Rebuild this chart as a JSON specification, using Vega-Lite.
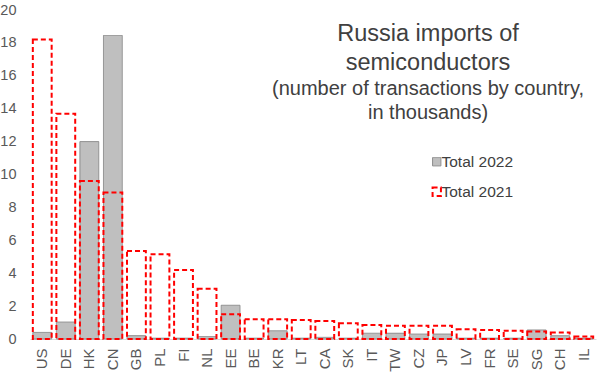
{
  "$schema": "https://vega.github.io/schema/vega-lite/v6.json",
  "autosize": "none",
  "width": 566,
  "height": 329,
  "padding": {"left": 30, "top": 10, "right": 4, "bottom": 37},
  "background": "white",
  "config": {
    "view": {"stroke": null},
    "font": "Liberation Sans"
  },
  "title": {
    "text": ["Russia imports of", "semiconductors"],
    "subtitle": ["(number of transactions by country,", "in thousands)"],
    "anchor": "middle",
    "frame": "group",
    "dx": 115,
    "offset": -121,
    "font": "Liberation Sans",
    "fontSize": 23.5,
    "fontWeight": "normal",
    "lineHeight": 29,
    "color": "#404040",
    "subtitleFont": "Liberation Sans",
    "subtitleFontSize": 20,
    "subtitleLineHeight": 24,
    "subtitleColor": "#404040",
    "subtitlePadding": 5
  },
  "data": {
    "values": [
      {"country": "US", "series": "Total 2022", "value": 0.4},
      {"country": "DE", "series": "Total 2022", "value": 1.03},
      {"country": "HK", "series": "Total 2022", "value": 12.0},
      {"country": "CN", "series": "Total 2022", "value": 18.45},
      {"country": "GB", "series": "Total 2022", "value": 0.2},
      {"country": "PL", "series": "Total 2022", "value": 0.05},
      {"country": "FI", "series": "Total 2022", "value": 0.05},
      {"country": "NL", "series": "Total 2022", "value": 0.15},
      {"country": "EE", "series": "Total 2022", "value": 2.05},
      {"country": "BE", "series": "Total 2022", "value": 0.05},
      {"country": "KR", "series": "Total 2022", "value": 0.5},
      {"country": "LT", "series": "Total 2022", "value": 0.05},
      {"country": "CA", "series": "Total 2022", "value": 0.1},
      {"country": "SK", "series": "Total 2022", "value": 0.05},
      {"country": "IT", "series": "Total 2022", "value": 0.35},
      {"country": "TW", "series": "Total 2022", "value": 0.35},
      {"country": "CZ", "series": "Total 2022", "value": 0.3},
      {"country": "JP", "series": "Total 2022", "value": 0.3},
      {"country": "LV", "series": "Total 2022", "value": 0.05},
      {"country": "FR", "series": "Total 2022", "value": 0.05},
      {"country": "SE", "series": "Total 2022", "value": 0.05},
      {"country": "SG", "series": "Total 2022", "value": 0.55},
      {"country": "CH", "series": "Total 2022", "value": 0.2},
      {"country": "IL", "series": "Total 2022", "value": 0.05},
      {"country": "US", "series": "Total 2021", "value": 18.2},
      {"country": "DE", "series": "Total 2021", "value": 13.7},
      {"country": "HK", "series": "Total 2021", "value": 9.6},
      {"country": "CN", "series": "Total 2021", "value": 8.9},
      {"country": "GB", "series": "Total 2021", "value": 5.35},
      {"country": "PL", "series": "Total 2021", "value": 5.15},
      {"country": "FI", "series": "Total 2021", "value": 4.2},
      {"country": "NL", "series": "Total 2021", "value": 3.05},
      {"country": "EE", "series": "Total 2021", "value": 1.5},
      {"country": "BE", "series": "Total 2021", "value": 1.2},
      {"country": "KR", "series": "Total 2021", "value": 1.2},
      {"country": "LT", "series": "Total 2021", "value": 1.15},
      {"country": "CA", "series": "Total 2021", "value": 1.1},
      {"country": "SK", "series": "Total 2021", "value": 0.95},
      {"country": "IT", "series": "Total 2021", "value": 0.85},
      {"country": "TW", "series": "Total 2021", "value": 0.8},
      {"country": "CZ", "series": "Total 2021", "value": 0.8},
      {"country": "JP", "series": "Total 2021", "value": 0.8},
      {"country": "LV", "series": "Total 2021", "value": 0.6},
      {"country": "FR", "series": "Total 2021", "value": 0.55},
      {"country": "SE", "series": "Total 2021", "value": 0.5},
      {"country": "SG", "series": "Total 2021", "value": 0.45},
      {"country": "CH", "series": "Total 2021", "value": 0.4},
      {"country": "IL", "series": "Total 2021", "value": 0.15}
    ]
  },
  "mark": {"type": "bar"},
  "encoding": {
    "x": {
      "field": "country",
      "type": "nominal",
      "sort": null,
      "scale": {"paddingInner": 0.2, "paddingOuter": 0.12},
      "axis": {
        "title": null,
        "labelAngle": -90,
        "labelFontSize": 15,
        "labelColor": "#595959",
        "labelPadding": 9,
        "ticks": false,
        "domainColor": "#d9d9d9",
        "domainWidth": 1
      }
    },
    "y": {
      "field": "value",
      "type": "quantitative",
      "stack": null,
      "scale": {"domain": [0, 20], "nice": false},
      "axis": {
        "title": null,
        "values": [0, 2, 4, 6, 8, 10, 12, 14, 16, 18, 20],
        "grid": false,
        "domain": false,
        "ticks": false,
        "labelFontSize": 14.5,
        "labelColor": "#595959",
        "labelPadding": 14
      }
    },
    "fill": {
      "field": "series",
      "type": "nominal",
      "scale": {"domain": ["Total 2022", "Total 2021"], "range": ["#bfbfbf", "rgba(255,255,255,0)"]},
      "legend": {
        "title": null,
        "orient": "none",
        "legendX": 399,
        "legendY": 144,
        "padding": 0,
        "symbolType": "square",
        "symbolSize": 70,
        "labelFontSize": 15.5,
        "labelColor": "#404040",
        "labelOffset": -3,
        "rowPadding": 12
      }
    },
    "stroke": {
      "field": "series",
      "type": "nominal",
      "scale": {"domain": ["Total 2022", "Total 2021"], "range": ["#8c8c8c", "#ff0000"]}
    },
    "strokeDash": {
      "field": "series",
      "type": "nominal",
      "scale": {"domain": ["Total 2022", "Total 2021"], "range": [[1, 0], [5, 3]]}
    },
    "strokeWidth": {
      "field": "series",
      "type": "nominal",
      "scale": {"domain": ["Total 2022", "Total 2021"], "range": [1, 2]}
    }
  }
}
